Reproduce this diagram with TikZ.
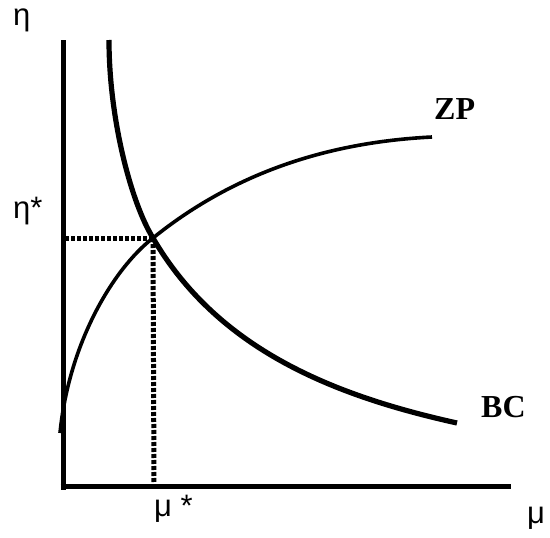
\documentclass[tikz,border=0pt]{standalone}
\usepackage{fontspec}
\setmainfont{Liberation Serif}
\newfontfamily\gk{Liberation Sans}
\begin{document}
\begin{tikzpicture}[x=1pt,y=-1pt,
  axisline/.style={line width=5pt},
  bcline/.style={line width=5.2pt},
  zpline/.style={line width=3.6pt},
  dotline/.style={line width=5pt,dash pattern=on 4pt off 2pt},
  greek/.style={font=\gk\fontsize{31}{31}\selectfont,inner sep=0pt},
  curvelabel/.style={font=\bfseries\fontsize{32}{32}\selectfont,inner sep=0pt}]
\useasboundingbox (0,0) rectangle (550,538);
\coordinate (ytop) at (63,40);
\coordinate (ybot) at (63,490);
\coordinate (xleft) at (60.5,486);
\coordinate (xend) at (511,486);
\coordinate (E) at (153,238);
\coordinate (Ey) at (65,238);
\coordinate (Ex) at (154,483);
\coordinate (bcA) at (109,40);
\coordinate (bcB) at (457,423);
\coordinate (zpA) at (60,433);
\coordinate (zpB) at (432,137);
\draw[axisline] (ytop) -- (ybot);
\draw[axisline] (xleft) -- (xend);
\draw[dotline] (Ey) -- (E);
\draw[dotline] (E) -- (Ex);
\draw[bcline] (bcA) .. controls (109,120) and (131.6,203.6) .. (E)
  .. controls (218,350) and (335,396) .. (bcB);
\draw[zpline] (zpA) .. controls (69,343) and (113,269) .. (E)
  .. controls (230,176) and (322,142.5) .. (zpB);
\node[greek,anchor=base west] (eta) at (13,26) {η};
\node[greek,anchor=base west] (etastar) at (13,218) {η*};
\node[greek,anchor=base west] (mustar) at (154,516) {μ *};
\node[greek,anchor=base west] (mu) at (527,523) {μ};
\node[curvelabel,anchor=base west] (zp) at (434,119) {ZP};
\node[curvelabel,anchor=base west] (bc) at (481,417) {BC};
\end{tikzpicture}
\end{document}
